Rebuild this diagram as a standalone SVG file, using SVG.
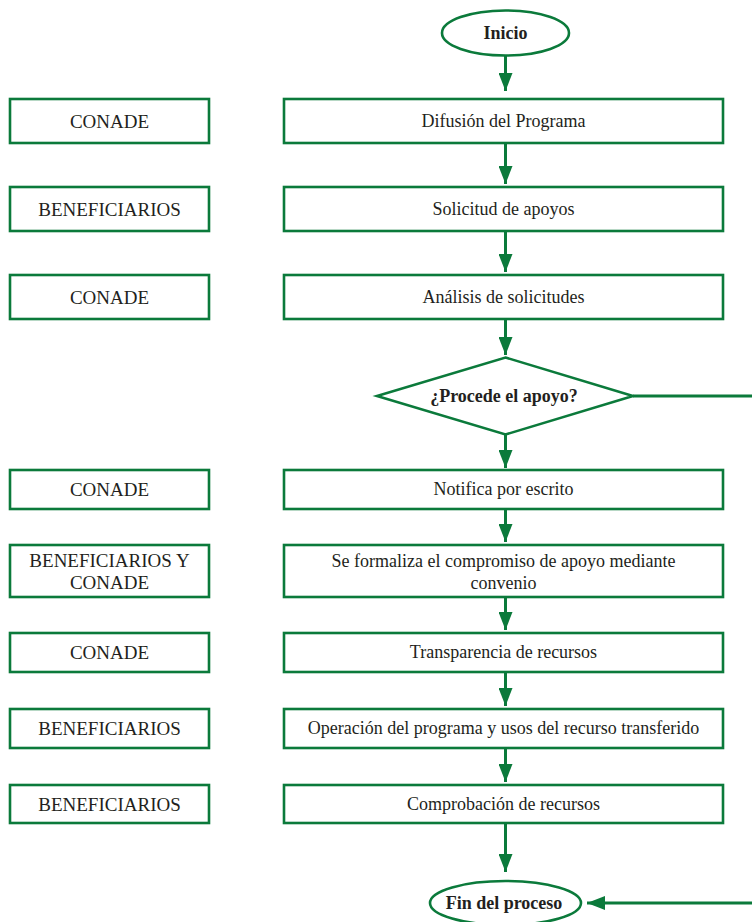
<svg xmlns="http://www.w3.org/2000/svg" width="752" height="922" viewBox="0 0 752 922">
<style>
.box{fill:#fff;stroke:#0b7a3b;stroke-width:2.6}
text{font-family:'Liberation Serif','Times New Roman','DejaVu Serif',serif;fill:#231f20;text-anchor:middle}
.t{font-size:18px}
.l{font-size:19px}
.b{font-size:18px;font-weight:bold}
.ln{stroke:#0b7a3b;stroke-width:3;fill:none}
.ah{fill:#0b7a3b}
</style>
<defs>
<marker id="arr" markerUnits="userSpaceOnUse" markerWidth="20" markerHeight="14" refX="18" refY="7" orient="auto">
<path d="M0,0 L18,7 L0,14 Z" class="ah"/>
</marker>
</defs>
<rect width="752" height="922" fill="#fff"/>
<g id="connectors">
<line class="ln" x1="505.5" y1="56" x2="505.5" y2="91" marker-end="url(#arr)"/>
<line class="ln" x1="505.5" y1="143" x2="505.5" y2="184" marker-end="url(#arr)"/>
<line class="ln" x1="505.5" y1="231" x2="505.5" y2="272" marker-end="url(#arr)"/>
<line class="ln" x1="505.5" y1="319" x2="505.5" y2="355" marker-end="url(#arr)"/>
<line class="ln" x1="505.5" y1="434.5" x2="505.5" y2="468" marker-end="url(#arr)"/>
<line class="ln" x1="505.5" y1="509" x2="505.5" y2="542" marker-end="url(#arr)"/>
<line class="ln" x1="505.5" y1="597" x2="505.5" y2="630" marker-end="url(#arr)"/>
<line class="ln" x1="505.5" y1="672" x2="505.5" y2="706" marker-end="url(#arr)"/>
<line class="ln" x1="505.5" y1="748" x2="505.5" y2="782" marker-end="url(#arr)"/>
<line class="ln" x1="505.5" y1="823" x2="505.5" y2="872" marker-end="url(#arr)"/>
<line class="ln" x1="633" y1="396" x2="752" y2="396"/>
<line class="ln" x1="752" y1="903" x2="587" y2="903" marker-end="url(#arr)"/>
</g>
<g id="inicio">
<ellipse class="box" cx="505.5" cy="33" rx="63.5" ry="22.5"/>
<text class="b" x="505.5" y="39">Inicio</text>
</g>
<g id="a1"><rect class="box" x="10" y="99" width="199" height="44"/><text class="l" x="109.5" y="128">CONADE</text></g>
<g id="p1"><rect class="box" x="284" y="99" width="439" height="44"/><text class="t" x="503.5" y="127">Difusión del Programa</text></g>
<g id="a2"><rect class="box" x="10" y="187" width="199" height="44"/><text class="l" x="109.5" y="216">BENEFICIARIOS</text></g>
<g id="p2"><rect class="box" x="284" y="187" width="439" height="44"/><text class="t" x="503.5" y="215">Solicitud de apoyos</text></g>
<g id="a3"><rect class="box" x="10" y="275" width="199" height="44"/><text class="l" x="109.5" y="304">CONADE</text></g>
<g id="p3"><rect class="box" x="284" y="275" width="439" height="44"/><text class="t" x="503.5" y="303">Análisis de solicitudes</text></g>
<g id="decision">
<polygon class="box" points="505.5,357.5 633,396 505.5,434.5 377,396"/>
<text class="b" x="504" y="402">¿Procede el apoyo?</text>
</g>
<g id="a4"><rect class="box" x="10" y="470" width="199" height="39"/><text class="l" x="109.5" y="496">CONADE</text></g>
<g id="p4"><rect class="box" x="284" y="470" width="439" height="39"/><text class="t" x="503.5" y="495">Notifica por escrito</text></g>
<g id="a5"><rect class="box" x="10" y="545" width="199" height="52"/><text class="l" x="109.5" y="567">BENEFICIARIOS Y</text><text class="l" x="109.5" y="589">CONADE</text></g>
<g id="p5"><rect class="box" x="284" y="545" width="439" height="52"/><text class="t" x="503.5" y="567">Se formaliza el compromiso de apoyo mediante</text><text class="t" x="503.5" y="589">convenio</text></g>
<g id="a6"><rect class="box" x="10" y="633" width="199" height="39"/><text class="l" x="109.5" y="659">CONADE</text></g>
<g id="p6"><rect class="box" x="284" y="633" width="439" height="39"/><text class="t" x="503.5" y="658">Transparencia de recursos</text></g>
<g id="a7"><rect class="box" x="10" y="709" width="199" height="39"/><text class="l" x="109.5" y="735">BENEFICIARIOS</text></g>
<g id="p7"><rect class="box" x="284" y="709" width="439" height="39"/><text class="t" x="503.5" y="734">Operación del programa y usos del recurso transferido</text></g>
<g id="a8"><rect class="box" x="10" y="785" width="199" height="38"/><text class="l" x="109.5" y="811">BENEFICIARIOS</text></g>
<g id="p8"><rect class="box" x="284" y="785" width="439" height="38"/><text class="t" x="503.5" y="810">Comprobación de recursos</text></g>
<g id="fin">
<ellipse class="box" cx="505.5" cy="903" rx="75.5" ry="22"/>
<text class="b" x="504" y="909">Fin del proceso</text>
</g>
</svg>
